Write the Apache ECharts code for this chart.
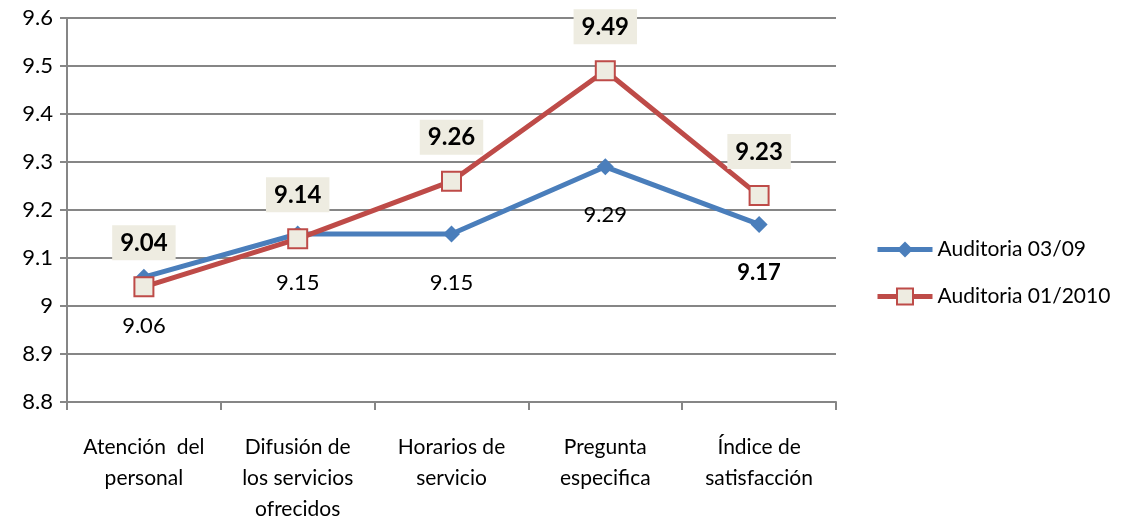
<!DOCTYPE html>
<html>
<head>
<meta charset="utf-8">
<script src="https://cdn.jsdelivr.net/npm/echarts@6/dist/echarts.min.js"></script>
<style>
  html, body { margin: 0; padding: 0; background: #fff; }
  #chart { width: 1138px; height: 525px; }
</style>
</head>
<body>
<div id="chart"></div>
<script>
var categories = ['Atención  del\npersonal', 'Difusión de\nlos servicios\nofrecidos', 'Horarios de\nservicio', 'Pregunta\nespecifica', 'Índice de\nsatisfacción'];
var auditoria0309 = [9.06, 9.15, 9.15, 9.29, 9.17];
var auditoria0110 = [9.04, 9.14, 9.26, 9.49, 9.23];
var seriesNames = ['Auditoria 03/09', 'Auditoria 01/2010'];

var font = 'Lato, "Open Sans", sans-serif';
var chart = echarts.init(document.getElementById('chart'));
var option = {
    animation: false,
    textStyle: { fontFamily: font },
    grid: { left: 67, right: 302, top: 18, bottom: 119 },
    legend: {
        orient: 'vertical',
        left: 875,
        top: 239,
        padding: 0,
        itemGap: 26,
        itemWidth: 55,
        itemHeight: 20,
        data: seriesNames,
        lineStyle: { width: 5 },
        textStyle: { fontSize: 21, color: '#000', fontFamily: font }
    },
    xAxis: {
        type: 'category',
        data: categories,
        boundaryGap: true,
        axisLine: { lineStyle: { color: '#868686', width: 2 } },
        axisTick: { show: true, length: 8, lineStyle: { color: '#868686', width: 2 } },
        axisLabel: { color: '#000', fontSize: 21, lineHeight: 31, margin: 30, interval: 0, fontFamily: font }
    },
    yAxis: {
        type: 'value',
        min: 8.8,
        max: 9.6,
        interval: 0.1,
        axisLine: { show: true, lineStyle: { color: '#868686', width: 2 } },
        axisTick: { show: true, length: 7, lineStyle: { color: '#868686', width: 2 } },
        splitLine: { lineStyle: { color: '#868686', width: 2 } },
        axisLabel: {
            color: '#000', fontSize: 22, margin: 14, fontFamily: font,
            formatter: function (v) { return String(parseFloat(v.toFixed(1))); }
        }
    },
    series: [
        {
            name: seriesNames[0],
            type: 'line',
            data: auditoria0309,
            symbol: 'diamond',
            symbolSize: 17,
            itemStyle: { color: '#4A7EBB' },
            lineStyle: { color: '#4A7EBB', width: 5 },
            label: {
                show: true,
                position: 'bottom',
                distance: 29,
                color: '#000',
                fontSize: 22,
                fontFamily: font,
                formatter: function (p) {
                    return p.dataIndex === 4 ? '{b|' + p.value + '}' : String(p.value);
                },
                rich: { b: { fontWeight: 'bold', fontSize: 22, fontFamily: font, color: '#000' } }
            },
            z: 2
        },
        {
            name: seriesNames[1],
            type: 'line',
            data: auditoria0110,
            symbol: 'rect',
            symbolSize: 19,
            itemStyle: { color: '#EEECE1', borderColor: '#BE4B48', borderWidth: 2 },
            lineStyle: { color: '#BE4B48', width: 5 },
            label: {
                show: true,
                position: 'top',
                distance: 16,
                color: '#000',
                fontSize: 24,
                fontWeight: 'bold',
                fontFamily: font,
                backgroundColor: '#EEECE1',
                padding: [6, 8, 5, 8]
            },
            z: 3
        }
    ]
};
chart.setOption(option);
</script>
</body>
</html>
